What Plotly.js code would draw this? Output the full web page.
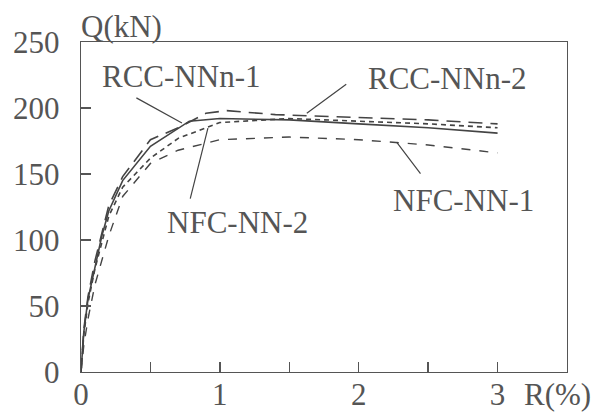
<!DOCTYPE html>
<html><head><meta charset="utf-8">
<script src="https://cdn.plot.ly/plotly-3.0.1.min.js"></script>
<style>html,body{margin:0;padding:0;background:#fff}#c{width:605px;height:414px}</style>
</head><body><div id="c"></div>
<script>
// Data: R (%) vs Q (kN)
const rccNNn1_R = [0, 0.02, 0.05, 0.1, 0.15, 0.2, 0.3, 0.5, 0.78, 1.0, 1.5, 2.0, 2.5, 3.0];
const rccNNn1_Q = [0, 30, 55, 80, 103, 122, 145, 171, 190, 192, 191, 188, 185, 181];

const rccNNn2_R = [0, 0.02, 0.05, 0.1, 0.2, 0.3, 0.5, 0.7, 0.9, 1.05, 1.4, 2.0, 2.5, 3.0];
const rccNNn2_Q = [0, 32, 57, 84, 126, 148, 176, 185, 196, 198, 195, 193, 191, 188];

const nfcNN2_R = [0, 0.02, 0.05, 0.1, 0.2, 0.3, 0.5, 0.7, 1.0, 1.5, 2.0, 2.5, 3.0];
const nfcNN2_Q = [0, 28, 52, 78, 118, 140, 162, 177, 189, 192, 190, 188, 185];

const nfcNN1_R = [0, 0.02, 0.05, 0.1, 0.2, 0.3, 0.5, 0.7, 1.0, 1.5, 2.0, 2.5, 3.0];
const nfcNN1_Q = [0, 20, 40, 66, 103, 133, 158, 168, 176, 178, 176, 172, 166];

const xTickVals = [0, 1, 2, 3];
const xTickText = ['0', '1', '2', '3'];
const yTickVals = [0, 50, 100, 150, 200, 250];

const lineCol = '#444';
const textCol = '#555';
const fam = 'Liberation Serif';
const fs = 31;

const traces = [
  {x: rccNNn1_R, y: rccNNn1_Q, mode: 'lines', line: {color: lineCol, width: 1.6, dash: 'solid'}},
  {x: rccNNn2_R, y: rccNNn2_Q, mode: 'lines', line: {color: lineCol, width: 1.6, dash: '14px,8px'}},
  {x: nfcNN2_R, y: nfcNN2_Q, mode: 'lines', line: {color: lineCol, width: 1.6, dash: '5px,4px'}},
  {x: nfcNN1_R, y: nfcNN1_Q, mode: 'lines', line: {color: lineCol, width: 1.4, dash: '9px,9px'}}
];

function lbl(text, x, y) {
  return {text: text, x: x, y: y, xref: 'x', yref: 'y', showarrow: false,
          xanchor: 'center', yanchor: 'middle', font: {family: fam, size: fs, color: textCol}};
}
function ptr(x, y, ax, ay) {
  return {text: '', x: x, y: y, ax: ax, ay: ay, xref: 'x', yref: 'y', axref: 'x', ayref: 'y',
          showarrow: true, arrowhead: 0, arrowwidth: 1.2, arrowcolor: lineCol, standoff: 0, startstandoff: 0};
}

const layout = {
  width: 605, height: 414,
  margin: {l: 81, r: 38, t: 42, b: 42},
  paper_bgcolor: '#fff', plot_bgcolor: '#fff',
  showlegend: false,
  font: {family: fam, size: fs, color: textCol},
  xaxis: {
    range: [0, 3.5], showgrid: false, zeroline: false,
    showline: true, linecolor: '#555', linewidth: 1.3, mirror: true,
    tickmode: 'array', tickvals: xTickVals, ticktext: xTickText,
    ticks: 'inside', ticklen: 10, tickwidth: 1.3, tickcolor: '#555',
    minor: {dtick: 0.5, tick0: 0, ticks: 'inside', ticklen: 10, tickwidth: 1.3, tickcolor: '#555', showgrid: false},
    tickfont: {family: fam, size: fs, color: textCol}, ticklabelstandoff: -6
  },
  yaxis: {
    range: [0, 250], showgrid: false, zeroline: false,
    showline: true, linecolor: '#555', linewidth: 1.3, mirror: true,
    tickmode: 'array', tickvals: yTickVals,
    ticks: 'inside', ticklen: 10, tickwidth: 1.3, tickcolor: '#555',
    tickfont: {family: fam, size: fs, color: textCol}, ticklabelstandoff: 14
  },
  annotations: [
    {text: 'Q(kN)', x: 0, y: 1, xref: 'paper', yref: 'paper', xanchor: 'left', yanchor: 'bottom',
     showarrow: false, xshift: -2, yshift: -4, font: {family: fam, size: fs, color: textCol}},
    {text: 'R(%)', x: 3, y: 0, xref: 'x', yref: 'paper', xanchor: 'left', yanchor: 'top',
     showarrow: false, xshift: 24, yshift: -3, font: {family: fam, size: fs, color: textCol}},
    lbl('RCC-NNn-1', 0.719, 223.5),
    lbl('RCC-NNn-2', 2.633, 222.7),
    lbl('NFC-NN-2', 1.13, 113.5),
    lbl('NFC-NN-1', 2.755, 130.2),
    ptr(0.727, 188.6, 0.388, 208.3),
    ptr(1.626, 196.1, 1.921, 218.9),
    ptr(0.914, 184.8, 0.784, 130.2),
    ptr(2.273, 174.2, 2.453, 149.2)
  ]
};

Plotly.newPlot('c', traces, layout, {staticPlot: true, displayModeBar: false});
</script></body></html>
